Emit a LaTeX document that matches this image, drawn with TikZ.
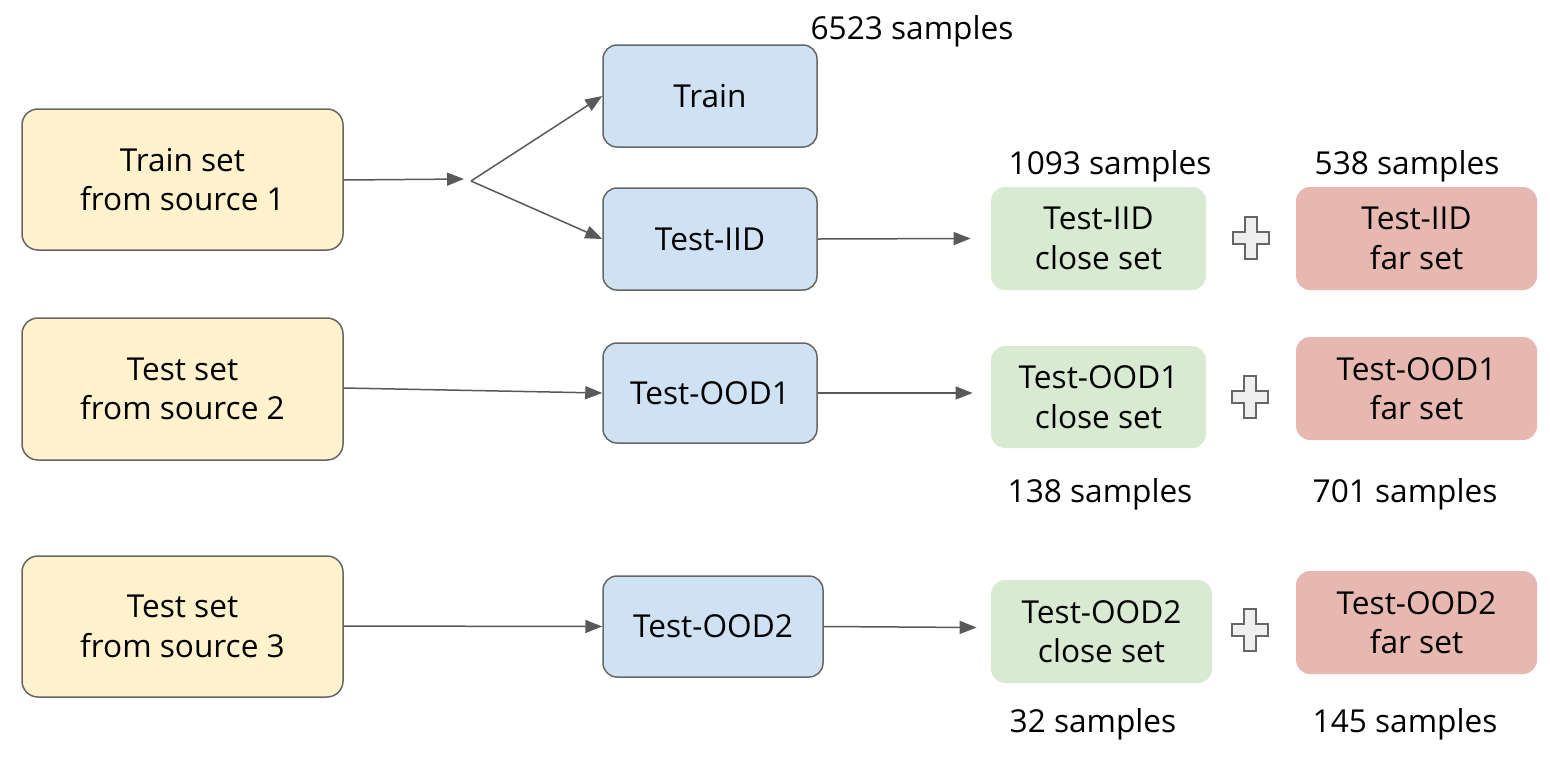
\documentclass[tikz,border=0pt]{standalone}
\usepackage{fontspec}
\setmainfont{Open Sans}
\usetikzlibrary{arrows.meta,calc}
\definecolor{cyel}{HTML}{FFF2CC}
\definecolor{cblue}{HTML}{CFE2F3}
\definecolor{cgreen}{HTML}{D9EAD3}
\definecolor{cred}{HTML}{E6B8AF}
\definecolor{cline}{HTML}{666666}
\definecolor{carrow}{HTML}{595959}
\definecolor{cplus}{HTML}{EFEFEF}
\tikzset{
  box/.style={rounded corners=8pt, align=center, inner sep=0pt,
    font=\fontsize{15.8}{19.8}\selectfont, text=black},
  srcbox/.style={box, draw=cline, line width=0.75pt, fill=cyel},
  setbox/.style={box, draw=cline, line width=0.75pt, fill=cblue, rounded corners=7pt},
  closebox/.style={box, fill=cgreen, rounded corners=7pt},
  farbox/.style={box, fill=cred, rounded corners=7pt},
  lbl/.style={font=\fontsize{15.8}{19.8}\selectfont, inner sep=0pt},
  conn/.style={draw=carrow, line width=0.75pt},
  arr/.style={conn, -{Triangle[length=8.5pt,width=6.5pt]}},
  plussign/.style={draw=cline, fill=cplus, line width=0.9pt},
}
\begin{document}
\begin{tikzpicture}[x=0.5pt,y=-0.5pt]
\useasboundingbox (0,0) rectangle (1550,756);
% sources
\node[srcbox, minimum width=160.5pt, minimum height=70.5pt] (s1) at (182.5,179.5) {Train set\\from source 1};
\node[srcbox, minimum width=160.5pt, minimum height=71pt] (s2) at (182.5,389) {Test set\\from source 2};
\node[srcbox, minimum width=160.5pt, minimum height=70.5pt] (s3) at (182.5,626.5) {Test set\\from source 3};
% splits
\node[setbox, minimum width=107pt, minimum height=51pt] (train) at (710,96) {Train};
\node[setbox, minimum width=107pt, minimum height=51pt] (tiid) at (710,239) {Test-IID};
\node[setbox, minimum width=107pt, minimum height=50pt] (tood1) at (710,393) {Test-OOD1};
\node[setbox, minimum width=110pt, minimum height=50.5pt] (tood2) at (713,626.5) {Test-OOD2};
% close sets
\node[closebox, minimum width=107.5pt, minimum height=51.5pt] (c1) at (1098.5,238.5) {Test-IID\\close set};
\node[closebox, minimum width=107.5pt, minimum height=51pt] (c2) at (1098.5,397) {Test-OOD1\\close set};
\node[closebox, minimum width=110.5pt, minimum height=51.5pt] (c3) at (1101.5,631.5) {Test-OOD2\\close set};
% far sets
\node[farbox, minimum width=120.5pt, minimum height=51.5pt] (f1) at (1416.5,238.5) {Test-IID\\far set};
\node[farbox, minimum width=120.5pt, minimum height=51.5pt] (f2) at (1416.5,388.5) {Test-OOD1\\far set};
\node[farbox, minimum width=120.5pt, minimum height=51.5pt] (f3) at (1416.5,622.5) {Test-OOD2\\far set};
% sample counts
\node[lbl] (n0) at (912,31) {6523 samples};
\node[lbl] (n1) at (1110,166) {1093 samples};
\node[lbl] (n2) at (1407,166) {538 samples};
\node[lbl] (n3) at (1100,494) {138 samples};
\node[lbl] (n4) at (1405,494) {701 samples};
\node[lbl] (n5) at (1093,724) {32 samples};
\node[lbl] (n6) at (1405,724) {145 samples};
% plus signs
\foreach \px/\py in {1251/238, 1250/397, 1250/630}{
  \draw[plussign] (\px-6,\py-21) -- (\px+6,\py-21) -- (\px+6,\py-6) -- (\px+18,\py-6)
    -- (\px+18,\py+6) -- (\px+6,\py+6) -- (\px+6,\py+21) -- (\px-6,\py+21)
    -- (\px-6,\py+6) -- (\px-18,\py+6) -- (\px-18,\py-6) -- (\px-6,\py-6) -- cycle;
}
% connectors
\coordinate (splitin) at (464,179);
\coordinate (split) at (471,181);
\draw[arr] (s1.east |- 0,180) -- (splitin);
\draw[arr] (split) -- (train.west);
\draw[arr] (split) -- (tiid.west);
\draw[arr] (tiid.east) -- ($(c1.west)+(-20,0)$);
\draw[arr] (s2.east |- 0,388) -- (tood1.west);
\draw[arr] (tood1.east) -- ($(c2.west)+(-18,-4)$);
\draw[arr] (s3.east |- 0,626) -- (tood2.west);
\draw[arr] (tood2.east) -- ($(c3.west)+(-14,-4)$);
\end{tikzpicture}
\end{document}
